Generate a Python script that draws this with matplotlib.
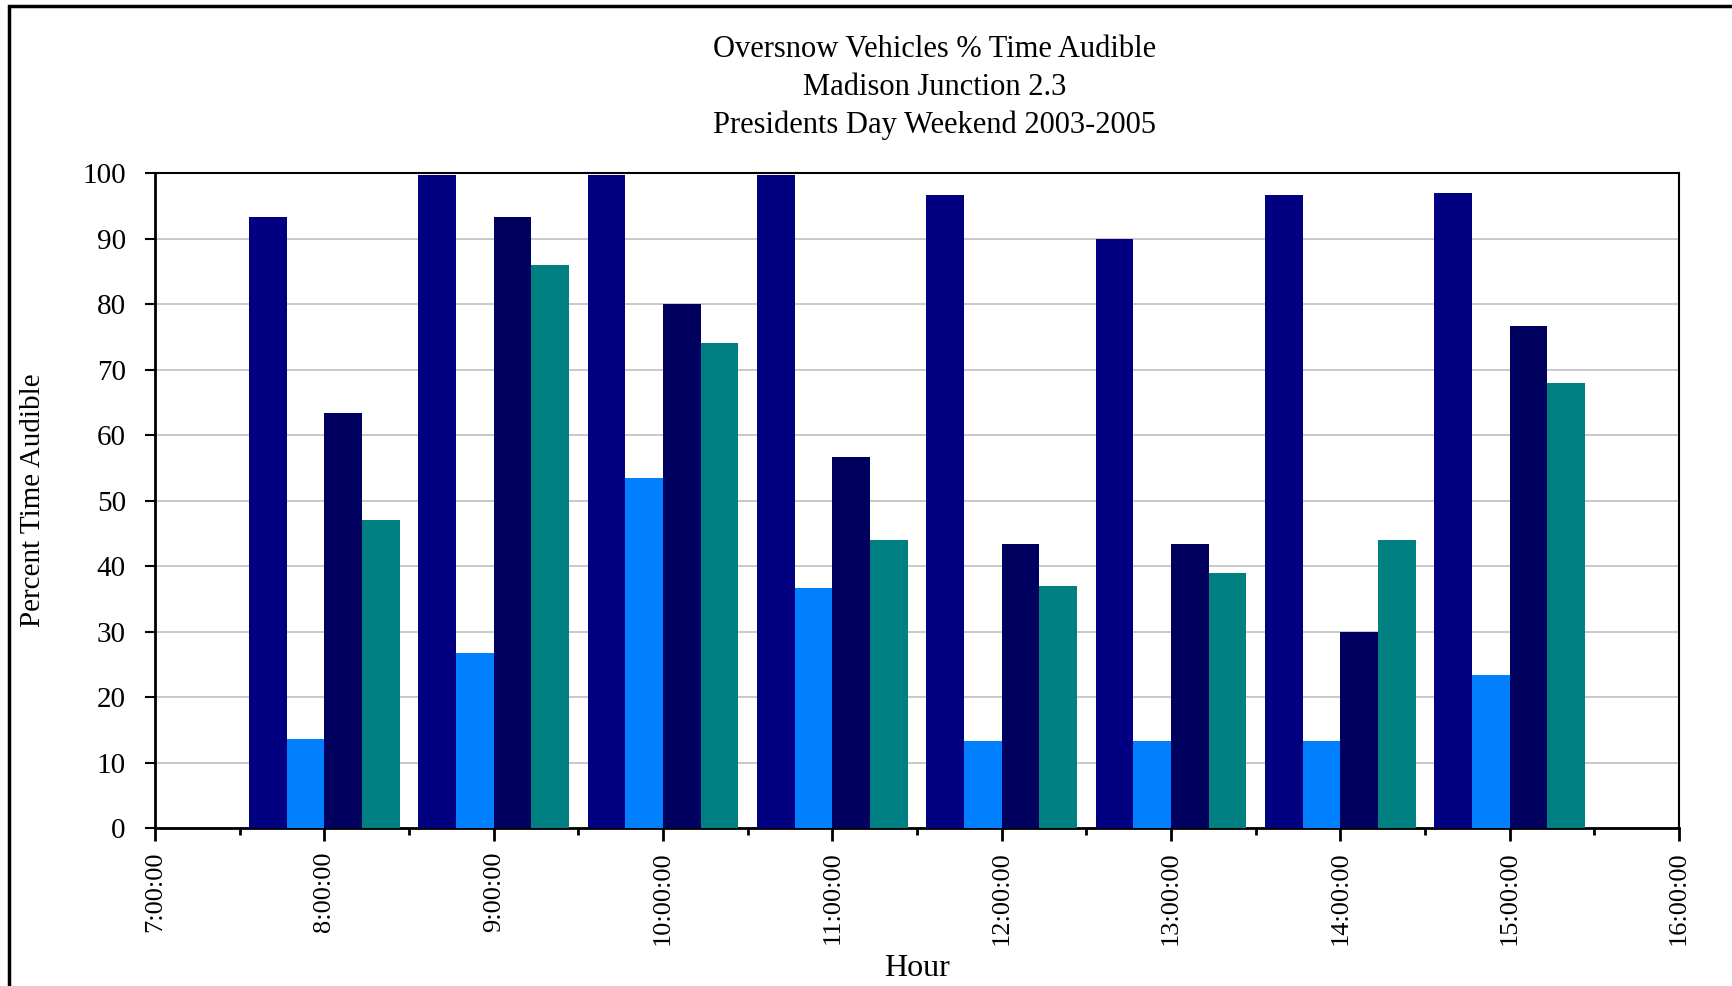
import matplotlib
matplotlib.use("Agg")
import matplotlib.pyplot as plt
import numpy as np
from matplotlib.ticker import MultipleLocator, FuncFormatter

# ── Data (percent time audible, per hour) ─────────────────────────────
hours = [8, 9, 10, 11, 12, 13, 14, 15]
series_a = [93.3, 99.7, 99.7, 99.7, 96.7, 90.0, 96.7, 97.0]
series_b = [13.6, 26.7, 53.4, 36.7, 13.3, 13.3, 13.3, 23.3]
series_c = [63.4, 93.3, 80.0, 56.7, 43.3, 43.3, 30.0, 76.6]
series_d = [47.0, 86.0, 74.0, 44.0, 37.0, 39.0, 44.0, 68.0]
colors = ["#000080", "#0080FF", "#00005E", "#008080"]

title_lines = ["Oversnow Vehicles % Time Audible",
               "Madison Junction 2.3",
               "Presidents Day Weekend 2003-2005"]

plt.rcParams["font.family"] = ["Liberation Serif", "DejaVu Serif"]

fig = plt.figure(figsize=(17.32, 9.86), dpi=100)
ax = fig.add_axes([0.0895, 0.1602, 0.8799, 0.6643])

w = 0.222
x = np.array(hours, dtype=float)
for i, vals in enumerate([series_a, series_b, series_c, series_d]):
    ax.bar(x + (i - 1.5) * w, vals, width=w, color=colors[i], zorder=3, linewidth=0)

ax.set_xlim(7, 16)
ax.set_ylim(0, 100)
ax.yaxis.set_major_locator(MultipleLocator(10))
ax.xaxis.set_major_locator(MultipleLocator(1))
ax.xaxis.set_minor_locator(MultipleLocator(0.5))
ax.xaxis.set_major_formatter(FuncFormatter(lambda v, p: f"{int(round(v))}:00:00"))
ax.grid(axis="y", color="#C0C0C0", linewidth=1.2, zorder=0)

for s in ax.spines.values():
    s.set_color("black")
    s.set_linewidth(1.5)
ax.spines["left"].set_linewidth(2)
ax.spines["bottom"].set_linewidth(2)

ax.tick_params(axis="x", which="major", direction="out", length=9, width=2,
               labelsize=19, labelrotation=90, pad=8)
ax.tick_params(axis="x", which="minor", direction="out", length=5, width=2)
ax.tick_params(axis="y", direction="out", length=7, width=1.5, labelsize=21, pad=14)

ax.set_xlabel("Hour", fontsize=23, labelpad=6)
ax.set_ylabel("Percent Time Audible", fontsize=21, labelpad=26)

for k, line in enumerate(title_lines):
    fig.text(0.5395, 0.950 - k * 0.0385, line, fontsize=22, ha="center", va="center")

# frame around the whole figure
fig.patches.append(plt.Rectangle((0.005, -0.05), 1.2, 1.044, transform=fig.transFigure,
                                 fill=False, edgecolor="black", linewidth=2.5))

fig.savefig("out.png", dpi=100)
